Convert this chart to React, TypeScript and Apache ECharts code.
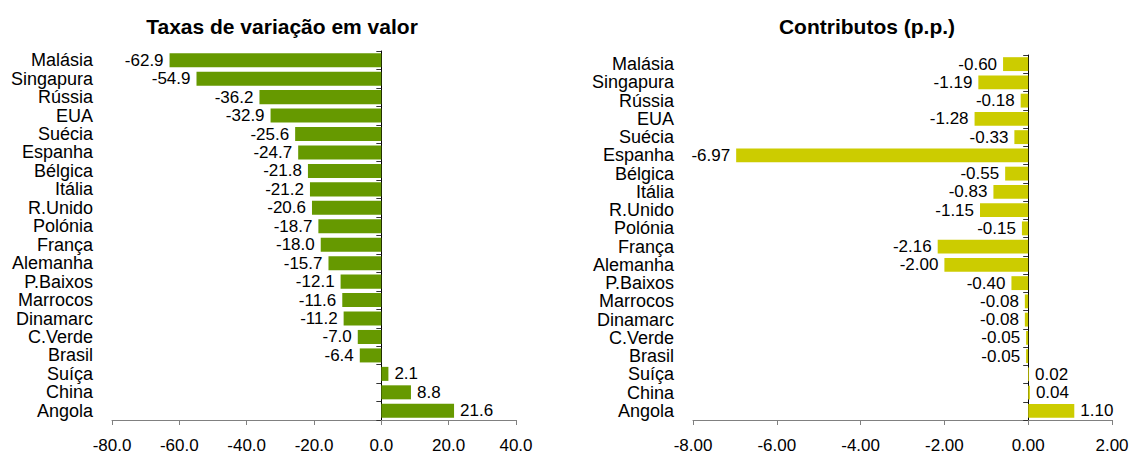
import React, { useEffect, useRef } from "react";
import * as echarts from "echarts";

const categories = [
  "Malásia", "Singapura", "Rússia", "EUA", "Suécia", "Espanha", "Bélgica", "Itália",
  "R.Unido", "Polónia", "França", "Alemanha", "P.Baixos", "Marrocos", "Dinamarc",
  "C.Verde", "Brasil", "Suíça", "China", "Angola",
];
const taxas = [
  -62.9, -54.9, -36.2, -32.9, -25.6, -24.7, -21.8, -21.2, -20.6, -18.7, -18.0, -15.7,
  -12.1, -11.6, -11.2, -7.0, -6.4, 2.1, 8.8, 21.6,
];
const contributos = [
  -0.6, -1.19, -0.18, -1.28, -0.33, -6.97, -0.55, -0.83, -1.15, -0.15, -2.16, -2.0,
  -0.4, -0.08, -0.08, -0.05, -0.05, 0.02, 0.04, 1.1,
];
const titles = ["Taxas de variação em valor", "Contributos (p.p.)"];
const leftTicks = { min: -80, max: 40, interval: 20, digits: 1 };
const rightTicks = { min: -8, max: 2, interval: 2, digits: 2 };

const FONT = "'Liberation Sans', Arial, sans-serif";
const FS = 17;

export default function App() {
  const ref = useRef<HTMLDivElement>(null);
  useEffect(() => {
    const chart = echarts.init(ref.current!, null, { renderer: "svg" });
    const grids = [
      { left: 112, top: 51, width: 404, height: 369 },
      { left: 693, top: 55, width: 419, height: 365 },
    ];
    const ticks = [leftTicks, rightTicks];
    const colors = ["#669900", "#CCCC00"];
    const datas = [taxas, contributos];

    const xAxis = ticks.map((t, i) => ({
      type: "value",
      gridIndex: i,
      min: t.min,
      max: t.max,
      interval: t.interval,
      axisLine: { show: true, lineStyle: { color: "#808080", width: 1 } },
      axisTick: { show: true, length: 5, lineStyle: { color: "#808080" } },
      splitLine: { show: false },
      axisLabel: {
        color: "#000",
        fontSize: FS,
        fontFamily: FONT,
        margin: 17,
        formatter: (v: number) => v.toFixed(t.digits),
      },
    }));

    const yAxis: any[] = [];
    [0, 1].forEach((i) => {
      yAxis.push({
        type: "category",
        gridIndex: i,
        data: categories,
        inverse: true,
        position: "left",
        axisLine: { show: false, onZero: false },
        axisTick: { show: false },
        axisLabel: { color: "#000", fontSize: 18, fontFamily: FONT, margin: 19, interval: 0 },
      });
      yAxis.push({
        type: "category",
        gridIndex: i,
        data: categories,
        inverse: true,
        position: "left",
        axisLine: { show: true, onZero: true, lineStyle: { color: "#000", width: 1 } },
        axisTick: { show: true, length: 5, interval: 0, lineStyle: { color: "#333" } },
        axisLabel: { show: false },
      });
    });

    const series = datas.map((d, i) => ({
      type: "bar",
      xAxisIndex: i,
      yAxisIndex: i * 2,
      barCategoryGap: "24%",
      itemStyle: { color: colors[i] },
      data: d.map((v) => ({
        value: v,
        label: { position: v < 0 ? "left" : "right" },
      })),
      label: {
        show: true,
        color: "#000",
        fontSize: FS,
        fontFamily: FONT,
        distance: 6,
        formatter: (p: any) => Number(p.value).toFixed(ticks[i].digits),
      },
    }));

    const titleStyle = { fontSize: 21, fontWeight: "bold", fontFamily: FONT, color: "#000" };
    chart.setOption({
      animation: false,
      backgroundColor: "#fff",
      title: [
        { text: titles[0], left: 277, top: 11, textAlign: "center", textStyle: titleStyle },
        { text: titles[1], left: 862, top: 11, textAlign: "center", textStyle: titleStyle },
      ],
      grid: grids,
      xAxis,
      yAxis,
      series,
    });
    return () => chart.dispose();
  }, []);
  return (
    <div
      ref={ref}
      style={{ position: "absolute", left: 0, top: 0, width: 1137, height: 455 }}
    />
  );
}
